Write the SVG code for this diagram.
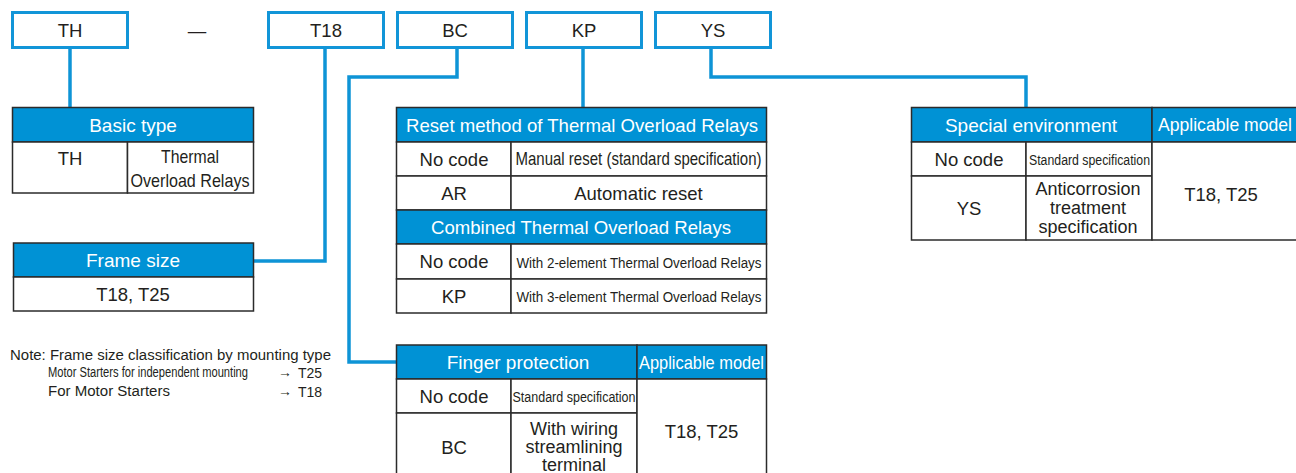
<svg xmlns="http://www.w3.org/2000/svg" width="1296" height="473" viewBox="0 0 1296 473">
<style>
text{font-family:"Liberation Sans",Arial,sans-serif;fill:#231f20;text-anchor:middle}
.code{fill:#fff;stroke:#1295d8;stroke-width:3}
.hd{fill:#0092d5;stroke:#2b2b2b;stroke-width:1.5}
.cell{fill:#fff;stroke:#2b2b2b;stroke-width:1.5}
.ht{fill:#fff;font-size:19px}
.t17{font-size:18.5px}
.t15{font-size:15.5px}
.ml{font-size:18px}
.conn{fill:none;stroke:#0e94d6;stroke-width:3.5}
.note{text-anchor:start;font-size:14px}
</style>
<rect width="1296" height="473" fill="#fff"/>

<g id="connectors">
<path class="conn" d="M70,47 V108"/>
<path class="conn" d="M325,47 V261 H254"/>
<path class="conn" d="M457,47 V77 H349 V362 H397"/>
<path class="conn" d="M583,47 V108"/>
<path class="conn" d="M711,47 V77 H1026 V108"/>
</g>

<g id="code-TH"><rect class="code" x="12.5" y="12.5" width="115" height="35"/><text class="t17" x="70" y="36.5">TH</text></g>
<g id="dash"><text class="t17" x="197" y="36.5">—</text></g>
<g id="code-T18"><rect class="code" x="268.5" y="12.5" width="115" height="35"/><text class="t17" x="326" y="36.5">T18</text></g>
<g id="code-BC"><rect class="code" x="397.5" y="12.5" width="115" height="35"/><text class="t17" x="455" y="36.5">BC</text></g>
<g id="code-KP"><rect class="code" x="526.5" y="12.5" width="115" height="35"/><text class="t17" x="584" y="36.5">KP</text></g>
<g id="code-YS"><rect class="code" x="655.5" y="12.5" width="115" height="35"/><text class="t17" x="713" y="36.5">YS</text></g>

<g id="basic-type">
<rect class="hd" x="12.5" y="107.5" width="241" height="34.5"/>
<text class="ht" x="133" y="131.5">Basic type</text>
<rect class="cell" x="12.5" y="142" width="115" height="51"/>
<rect class="cell" x="127.5" y="142" width="126" height="51"/>
<text class="t17" x="70" y="165">TH</text>
<text class="t17" x="190" y="162.5" textLength="58" lengthAdjust="spacingAndGlyphs">Thermal</text>
<text class="t17" x="190" y="186.5" textLength="119" lengthAdjust="spacingAndGlyphs">Overload Relays</text>
</g>

<g id="frame-size">
<rect class="hd" x="13.5" y="243" width="240" height="34"/>
<text class="ht" x="133" y="266.5">Frame size</text>
<rect class="cell" x="13.5" y="277" width="240" height="34"/>
<text class="t17" x="133" y="301">T18, T25</text>
</g>

<g id="note">
<text class="note" x="10" y="360" textLength="321" lengthAdjust="spacingAndGlyphs">Note: Frame size classification by mounting type</text>
<text class="note" x="48" y="377" font-size="13" textLength="200" lengthAdjust="spacingAndGlyphs">Motor Starters for independent mounting</text>
<text class="note" x="278" y="377" font-size="12">→</text>
<text class="note" x="298" y="378">T25</text>
<text class="note" x="48" y="396" textLength="122" lengthAdjust="spacingAndGlyphs">For Motor Starters</text>
<text class="note" x="278" y="396" font-size="12">→</text>
<text class="note" x="298" y="397">T18</text>
</g>

<g id="reset-method">
<rect class="hd" x="396.5" y="107.5" width="370" height="34.5"/>
<text class="ht" x="582" y="131.5" textLength="352" lengthAdjust="spacingAndGlyphs">Reset method of Thermal Overload Relays</text>
<rect class="cell" x="396.5" y="142" width="114.5" height="34"/>
<rect class="cell" x="511" y="142" width="255.5" height="34"/>
<text class="t17" x="454" y="165.5">No code</text>
<text class="t17" x="638.5" y="165" textLength="246" lengthAdjust="spacingAndGlyphs">Manual reset (standard specification)</text>
<rect class="cell" x="396.5" y="176" width="114.5" height="34"/>
<rect class="cell" x="511" y="176" width="255.5" height="34"/>
<text class="t17" x="454" y="199.5">AR</text>
<text class="t17" x="638.5" y="199.5">Automatic reset</text>
</g>

<g id="combined">
<rect class="hd" x="396.5" y="210" width="370" height="34"/>
<text class="ht" x="581" y="234" textLength="300" lengthAdjust="spacingAndGlyphs">Combined Thermal Overload Relays</text>
<rect class="cell" x="396.5" y="244" width="114.5" height="35"/>
<rect class="cell" x="511" y="244" width="255.5" height="35"/>
<text class="t17" x="454" y="268">No code</text>
<text class="t15" x="639" y="267.5" textLength="245" lengthAdjust="spacingAndGlyphs">With 2-element Thermal Overload Relays</text>
<rect class="cell" x="396.5" y="279" width="114.5" height="34"/>
<rect class="cell" x="511" y="279" width="255.5" height="34"/>
<text class="t17" x="454" y="302.5">KP</text>
<text class="t15" x="639" y="302" textLength="245" lengthAdjust="spacingAndGlyphs">With 3-element Thermal Overload Relays</text>
</g>

<g id="finger-protection">
<rect class="hd" x="396.5" y="345" width="240.5" height="34"/>
<rect class="hd" x="637" y="345" width="129.5" height="34"/>
<text class="ht" x="518" y="369">Finger protection</text>
<text class="ht" x="701.5" y="368.5" font-size="17.5" textLength="125" lengthAdjust="spacingAndGlyphs">Applicable model</text>
<rect class="cell" x="396.5" y="379" width="114.5" height="34"/>
<rect class="cell" x="511" y="379" width="126" height="34"/>
<rect class="cell" x="396.5" y="413" width="114.5" height="70"/>
<rect class="cell" x="511" y="413" width="126" height="70"/>
<rect class="cell" x="637" y="379" width="129.5" height="104"/>
<text class="t17" x="454" y="403">No code</text>
<text class="t15" x="574" y="402" textLength="123" lengthAdjust="spacingAndGlyphs">Standard specification</text>
<text class="t17" x="454" y="453.5">BC</text>
<text class="ml" x="574" y="435">With wiring</text>
<text class="ml" x="574" y="453">streamlining</text>
<text class="ml" x="574" y="471">terminal</text>
<text class="t17" x="701.5" y="437.5">T18, T25</text>
</g>

<g id="special-environment">
<rect class="hd" x="911.5" y="107.5" width="240.5" height="34.5"/>
<rect class="hd" x="1152" y="107.5" width="150" height="34.5"/>
<text class="ht" x="1031" y="131.5">Special environment</text>
<text class="ht" x="1158" y="131" font-size="18" style="text-anchor:start" textLength="134" lengthAdjust="spacingAndGlyphs">Applicable model</text>
<rect class="cell" x="911.5" y="142" width="114.5" height="34"/>
<rect class="cell" x="1026" y="142" width="126" height="34"/>
<rect class="cell" x="911.5" y="176" width="114.5" height="64"/>
<rect class="cell" x="1026" y="176" width="126" height="64"/>
<rect class="cell" x="1152" y="142" width="150" height="98"/>
<text class="t17" x="969" y="165.5">No code</text>
<text class="t15" x="1089.5" y="164.5" textLength="121" lengthAdjust="spacingAndGlyphs">Standard specification</text>
<text class="t17" x="969" y="214.5">YS</text>
<text class="ml" x="1088" y="195">Anticorrosion</text>
<text class="ml" x="1088" y="214">treatment</text>
<text class="ml" x="1088" y="233">specification</text>
<text class="t17" x="1221" y="200.5">T18, T25</text>
</g>
</svg>
